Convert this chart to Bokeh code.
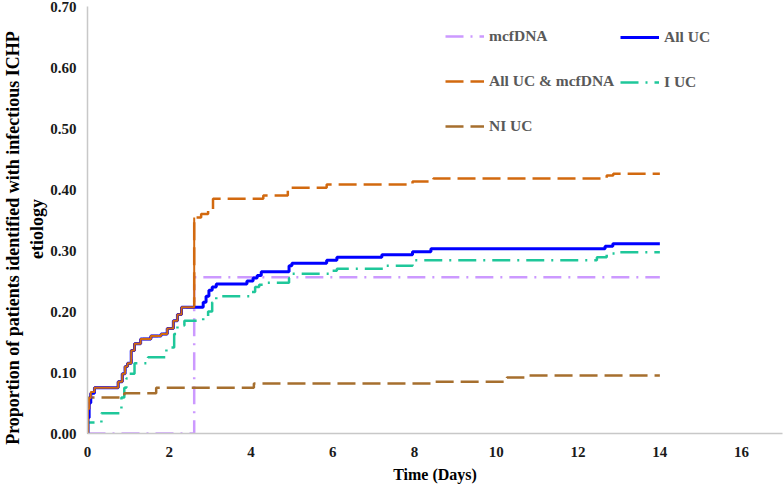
from bokeh.plotting import figure
from bokeh.models import Range1d, NumeralTickFormatter, Legend, LegendItem
from bokeh.embed import file_html
from bokeh.resources import INLINE

# Kaplan-Meier style cumulative proportions (days, proportion)
mcf_t = [0, 2.61, 14]
mcf_v = [0, 0.256, 0.256]

all_uc_t = [0, 0.01, 0.04, 0.08, 0.17, 0.75, 0.85, 0.92, 0.98, 1.07, 1.15, 1.3, 1.55,
            1.8, 1.95, 2.1, 2.2, 2.3, 2.83, 2.9, 2.97, 3.05, 3.15, 3.9, 4.05, 4.15, 4.25,
            4.93, 5.0, 5.85, 6.1, 7.2, 7.95, 8.4, 12.66, 12.85, 14]
all_uc_v = [0, 0.026, 0.05, 0.066, 0.075, 0.085, 0.098, 0.11, 0.115, 0.136, 0.147, 0.155, 0.16,
            0.163, 0.172, 0.185, 0.195, 0.207, 0.215, 0.225, 0.235, 0.24, 0.245, 0.25, 0.255, 0.259, 0.265,
            0.275, 0.279, 0.284, 0.289, 0.293, 0.298, 0.303, 0.307, 0.311, 0.311]

combo_t = [0, 0.01, 0.04, 0.08, 0.17, 0.75, 0.85, 0.92, 0.98, 1.07, 1.15, 1.3, 1.55,
           1.8, 1.95, 2.1, 2.2, 2.3, 2.61, 2.78, 2.95, 3.07, 4.3, 4.9, 5.85, 7.95, 8.46,
           12.7, 12.86, 14]
combo_v = [0, 0.04, 0.058, 0.068, 0.075, 0.085, 0.098, 0.11, 0.115, 0.136, 0.147, 0.155, 0.16,
           0.163, 0.172, 0.185, 0.195, 0.207, 0.354, 0.36, 0.366, 0.385, 0.39, 0.403, 0.408, 0.413, 0.418,
           0.423, 0.426, 0.426]

i_uc_t = [0, 0.01, 0.34, 0.83, 0.9, 0.95, 1.0, 1.15, 1.48, 1.93, 2.12, 2.2, 2.37, 2.83, 2.95,
          3.05, 3.15, 4.0, 4.1, 4.2, 4.3, 4.93, 5.0, 5.9, 6.1, 7.25, 7.95, 12.46, 12.7, 12.9, 14]
i_uc_v = [0, 0.018, 0.033, 0.059, 0.075, 0.09, 0.098, 0.115, 0.125, 0.141, 0.163, 0.177, 0.185, 0.19, 0.2,
          0.215, 0.225, 0.232, 0.24, 0.244, 0.247, 0.255, 0.262, 0.267, 0.27, 0.275, 0.284, 0.289, 0.295, 0.297, 0.297]

ni_uc_t = [0, 0.01, 0.03, 0.9, 1.68, 4.07, 8.46, 10.26, 10.75, 14]
ni_uc_v = [0, 0.04, 0.059, 0.066, 0.075, 0.082, 0.085, 0.092, 0.095, 0.095]

x_ticks = [0, 2, 4, 6, 8, 10, 12, 14, 16]
y_ticks = [0, 0.1, 0.2, 0.3, 0.4, 0.5, 0.6, 0.7]

FONT = "Liberation Serif"

p = figure(width=784, height=485, output_backend="svg", toolbar_location=None,
           x_range=Range1d(0, 17), y_range=Range1d(0, 0.70),
           min_border_left=86, min_border_right=2, min_border_top=6, min_border_bottom=52)

p.grid.visible = False
p.outline_line_color = None

r_mcf = p.step(mcf_t, mcf_v, mode="after", line_color="#cc99ff", line_width=2.5, line_dash="18 7 2 7")
r_combo = p.step(combo_t, combo_v, mode="after", line_color="#d2690f", line_width=2.5, line_dash="18 7")
r_iuc = p.step(i_uc_t, i_uc_v, mode="after", line_color="#1fc79a", line_width=2.5, line_dash="18 7 2 7")
r_niuc = p.step(ni_uc_t, ni_uc_v, mode="after", line_color="#a66f2e", line_width=2.5, line_dash="18 7")
r_all = p.step(all_uc_t, all_uc_v, mode="after", line_color="#0000ff", line_width=3)
# keep orange on top of blue for the early overlapping part, like the original
r_combo2 = p.step(combo_t[:19], combo_v[:19], mode="after", line_color="#d2690f", line_width=2)

p.xaxis.ticker = x_ticks
p.yaxis.ticker = y_ticks
p.yaxis.formatter = NumeralTickFormatter(format="0.00")

for ax in (p.xaxis, p.yaxis):
    ax.axis_line_color = "#c8c8c8"
    ax.axis_line_width = 1.5
    ax.major_tick_line_color = None
    ax.minor_tick_line_color = None
    ax.major_label_text_font = FONT
    ax.major_label_text_font_style = "bold"
    ax.major_label_text_font_size = "15px"
    ax.major_label_text_color = "#1a1a1a"
    ax.axis_label_text_font = FONT
    ax.axis_label_text_font_style = "bold"
    ax.axis_label_text_color = "#000000"

p.xaxis.axis_label = "Time (Days)"
p.xaxis.axis_label_text_font_size = "16px"
p.xaxis.major_label_standoff = 7
p.xaxis.axis_label_standoff = 6

# trailing spaces nudge each line toward the bottom, as in the original
p.yaxis.axis_label = "Proportion of patients identified with infectious ICHP        \netiology    "
p.yaxis.axis_label_text_font_size = "18px"
p.yaxis.axis_label_text_line_height = 1.2
p.yaxis.major_label_standoff = 5
p.yaxis.axis_label_standoff = 0


def make_legend(items, x, y):
    leg = Legend(items=items, location=(x, y), orientation="vertical")
    leg.border_line_color = None
    leg.background_fill_alpha = 0
    leg.padding = 0
    leg.margin = 0
    leg.spacing = 25
    leg.glyph_width = 39
    leg.glyph_height = 20
    leg.label_height = 20
    leg.label_standoff = 5
    leg.label_text_font = FONT
    leg.label_text_font_style = "bold"
    leg.label_text_font_size = "15.5px"
    leg.label_text_color = "#595959"
    return leg


legend_left = make_legend([
    LegendItem(label="mcfDNA", renderers=[r_mcf]),
    LegendItem(label="All UC & mcfDNA", renderers=[r_combo]),
    LegendItem(label="NI UC", renderers=[r_niuc]),
], 358, 297)
legend_right = make_legend([
    LegendItem(label="All UC", renderers=[r_all]),
    LegendItem(label="I UC", renderers=[r_iuc]),
], 533, 341)
p.add_layout(legend_left, "center")
p.add_layout(legend_right, "center")

open("out.html", "w").write(file_html(p, INLINE))
